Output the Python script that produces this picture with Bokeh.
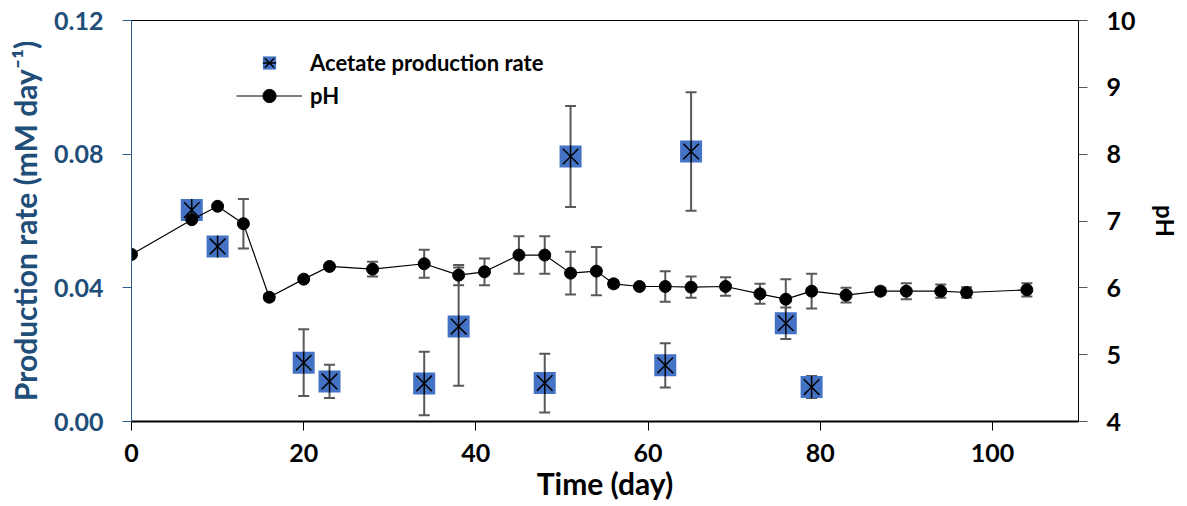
import math
from bokeh.plotting import figure
from bokeh.models import (Range1d, LinearAxis, FixedTicker, PrintfTickFormatter,
                          ColumnDataSource, Whisker, TeeHead, Legend, LegendItem)
from bokeh.embed import file_html
from bokeh.resources import INLINE

# Acetate production rate (mM day-1)
ac_day = [7, 10, 20, 23, 34, 38, 48, 51, 62, 65, 76, 79]
ac_rate = [0.0633, 0.0524, 0.0176, 0.0120, 0.0114, 0.0284, 0.0115, 0.0793, 0.0168, 0.0808, 0.0294, 0.0103]
ac_err = [0.0, 0.0, 0.0100, 0.0050, 0.0095, 0.0177, 0.0088, 0.0151, 0.0066, 0.0177, 0.0047, 0.0033]

# pH
ph_day = [0, 7, 10, 13, 16, 20, 23, 28, 34, 38, 41, 45, 48, 51, 54, 56, 59, 62, 65, 69,
          73, 76, 79, 83, 87, 90, 94, 97, 104]
ph_val = [6.50, 7.02, 7.22, 6.96, 5.86, 6.13, 6.32, 6.28, 6.36, 6.19, 6.24, 6.49, 6.49, 6.22,
          6.25, 6.06, 6.02, 6.02, 6.01, 6.02, 5.91, 5.83, 5.95, 5.89, 5.95, 5.95, 5.95, 5.93, 5.97]
ph_err = [0.0, 0.0, 0.0, 0.37, 0.05, 0.0, 0.0, 0.11, 0.21, 0.15, 0.20, 0.28, 0.28, 0.32,
          0.36, 0.05, 0.0, 0.23, 0.16, 0.14, 0.15, 0.30, 0.26, 0.11, 0.05, 0.12, 0.10, 0.08, 0.10]

x_ticks = [0, 20, 40, 60, 80, 100]
left_ticks = [0.0, 0.04, 0.08, 0.12]
right_ticks = [4, 5, 6, 7, 8, 9, 10]

FONT = "Lato"
BLUE_TXT = "#1F4E79"
SQ = "#4472C4"
ERR = "#595959"

p = figure(frame_width=947, frame_height=401,
           x_range=Range1d(0, 110), y_range=Range1d(0, 0.12),
           output_backend="svg", toolbar_location=None,
           min_border_left=131, min_border_right=109, min_border_top=20, min_border_bottom=85)
p.extra_y_ranges = {"ph": Range1d(4, 10)}
p.xgrid.visible = False
p.ygrid.visible = False
p.outline_line_color = "black"
p.outline_line_width = 1
p.background_fill_color = "white"
p.border_fill_color = "white"

# bottom axis
xa = p.xaxis[0]
xa.ticker = FixedTicker(ticks=x_ticks)
xa.axis_label = "Time (day)"
xa.axis_label_text_font = FONT
xa.axis_label_text_font_style = "bold"
xa.axis_label_text_font_size = "30px"
xa.axis_label_text_color = "black"
xa.axis_label_standoff = 0
xa.major_label_text_font = FONT
xa.major_label_text_font_style = "bold"
xa.major_label_text_font_size = "25px"
xa.major_label_text_color = "black"
xa.major_label_standoff = 13
xa.major_tick_in = 0
xa.major_tick_out = 9
xa.minor_tick_in = 0
xa.minor_tick_out = 0
xa.axis_line_width = 2
xa.axis_line_color = "black"
xa.major_tick_line_color = "black"

# left axis
ya = p.yaxis[0]
ya.ticker = FixedTicker(ticks=left_ticks)
ya.formatter = PrintfTickFormatter(format="%.2f")
ya.axis_label = "Production rate (mM day\u207b\u00b9)"
ya.axis_label_text_font = FONT
ya.axis_label_text_font_style = "bold"
ya.axis_label_text_font_size = "30px"
ya.axis_label_text_color = BLUE_TXT
ya.axis_label_standoff = 8
ya.major_label_text_font = FONT
ya.major_label_text_font_style = "bold"
ya.major_label_text_font_size = "25px"
ya.major_label_text_color = BLUE_TXT
ya.major_label_standoff = 19
ya.major_tick_in = 0
ya.major_tick_out = 9
ya.minor_tick_in = 0
ya.minor_tick_out = 0
ya.axis_line_color = "#2F5F8F"
ya.major_tick_line_color = "#2F5F8F"

# right axis
ra = LinearAxis(y_range_name="ph", ticker=FixedTicker(ticks=right_ticks))
ra.axis_label = "pH"
ra.axis_label_text_font = FONT
ra.axis_label_text_font_style = "bold"
ra.axis_label_text_font_size = "24px"
ra.axis_label_text_color = "black"
ra.axis_label_standoff = 12
ra.major_label_text_font = FONT
ra.major_label_text_font_style = "bold"
ra.major_label_text_font_size = "25px"
ra.major_label_text_color = "black"
ra.major_label_standoff = 19
ra.major_tick_in = 0
ra.major_tick_out = 9
ra.minor_tick_in = 0
ra.minor_tick_out = 0
ra.axis_line_color = "black"
ra.major_tick_line_color = "#555555"
p.add_layout(ra, "right")

# data sources
ac_src = ColumnDataSource(dict(
    x=ac_day, y=ac_rate,
    lo=[v - e for v, e in zip(ac_rate, ac_err)],
    hi=[v + e for v, e in zip(ac_rate, ac_err)]))
ph_src = ColumnDataSource(dict(
    x=ph_day, y=ph_val,
    lo=[v - e for v, e in zip(ph_val, ph_err)],
    hi=[v + e for v, e in zip(ph_val, ph_err)]))

# acetate markers
r_sq = p.scatter("x", "y", source=ac_src, marker="square", size=22,
                 fill_color=SQ, line_color=None)
r_x = p.scatter("x", "y", source=ac_src, marker="x", size=22,
                line_color="black", line_width=1.5)
r_v = p.scatter("x", "y", source=ac_src, marker="dash", size=22, angle=math.pi / 2,
                line_color="black", line_width=1.5)
ac_wh = Whisker(source=ac_src, base="x", upper="hi", lower="lo",
                line_color=ERR, line_width=2,
                upper_head=TeeHead(size=11, line_color=ERR, line_width=2),
                lower_head=TeeHead(size=11, line_color=ERR, line_width=2))
p.add_layout(ac_wh)

# pH
ph_wh = Whisker(source=ph_src, base="x", upper="hi", lower="lo", y_range_name="ph",
                line_color=ERR, line_width=2,
                upper_head=TeeHead(size=11, line_color=ERR, line_width=2),
                lower_head=TeeHead(size=11, line_color=ERR, line_width=2))
p.add_layout(ph_wh)
r_line = p.line("x", "y", source=ph_src, y_range_name="ph", line_color="black", line_width=1.2)
r_circ = p.scatter("x", "y", source=ph_src, y_range_name="ph", marker="circle", size=12,
                   fill_color="black", line_color="black")

legend = Legend(items=[
    LegendItem(label="Acetate production rate", renderers=[r_sq, r_x, r_v]),
    LegendItem(label="pH", renderers=[r_line, r_circ]),
], location=(105, 309))
legend.glyph_width = 66
legend.glyph_height = 33
legend.label_standoff = 8
legend.label_height = 33
legend.spacing = 0
legend.padding = 0
legend.margin = 0
legend.border_line_color = None
legend.background_fill_alpha = 0
legend.label_text_font = FONT
legend.label_text_font_style = "bold"
legend.label_text_font_size = "22px"
legend.label_text_color = "black"
p.add_layout(legend, "center")

open("out.html", "w").write(file_html(p, INLINE))
